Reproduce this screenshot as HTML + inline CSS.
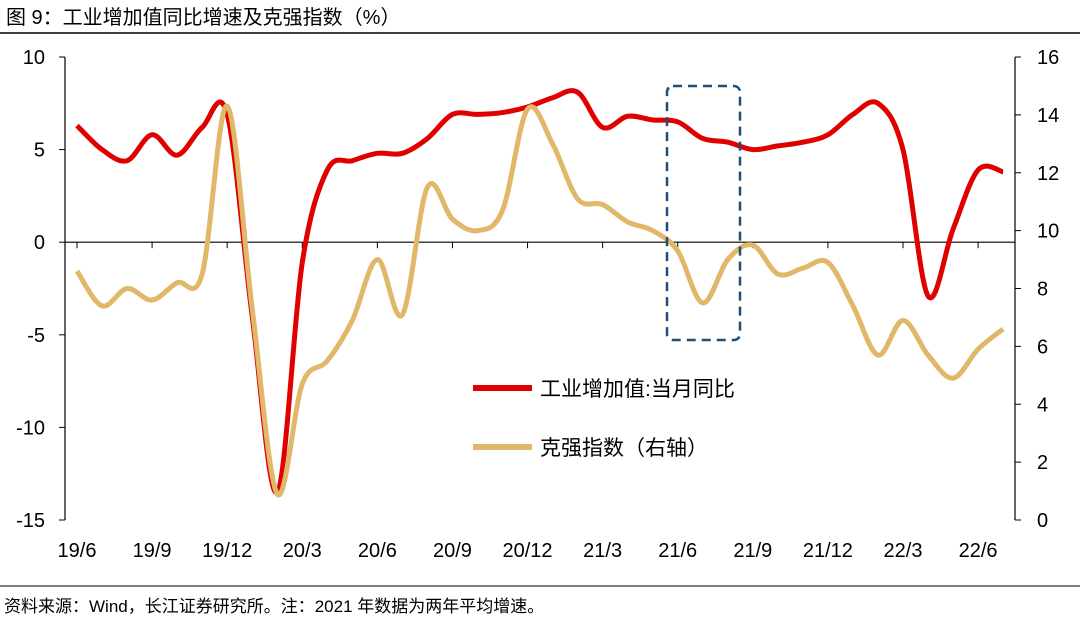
<!DOCTYPE html>
<html><head><meta charset="utf-8"><style>
body{margin:0;background:#fff;width:1080px;height:625px;overflow:hidden;font-family:"Liberation Sans","Noto Sans CJK SC",sans-serif}
</style></head><body>
<svg width="1080" height="625" font-family="Liberation Sans, Noto Sans CJK SC, sans-serif">
<text x="6" y="24" font-size="20" fill="#000">图 9：工业增加值同比增速及克强指数（%）</text>
<line x1="0" y1="33" x2="1080" y2="33" stroke="#000" stroke-width="1.5"/>
<line x1="0" y1="586" x2="1080" y2="586" stroke="#000" stroke-width="1"/>
<text x="4" y="612" font-size="17" fill="#000">资料来源：Wind，长江证券研究所。注：2021 年数据为两年平均增速。</text>
<g id="axes"></g>
<g id="marks"></g>
<rect x="667" y="86" width="73" height="254" rx="6" fill="none" stroke="#1f4e79" stroke-width="2.5" stroke-dasharray="9,6"/>
<line x1="473" y1="388" x2="532" y2="388" stroke="#e00000" stroke-width="6"/>
<text x="540" y="396" font-size="21">工业增加值:当月同比</text>
<line x1="473" y1="447" x2="532" y2="447" stroke="#e1b76a" stroke-width="6"/>
<text x="540" y="455" font-size="21">克强指数（右轴）</text>
</svg>
<script>
const months=["19/6","19/7","19/8","19/9","19/10","19/11","19/12","20/1","20/2","20/3","20/4","20/5","20/6","20/7","20/8","20/9","20/10","20/11","20/12","21/1","21/2","21/3","21/4","21/5","21/6","21/7","21/8","21/9","21/10","21/11","21/12","22/1","22/2","22/3","22/4","22/5","22/6","22/7"];
const ivaValues=[6.3,5.0,4.4,5.8,4.7,6.2,6.9,-4,-13.5,-1.1,3.9,4.4,4.8,4.8,5.6,6.9,6.9,7.0,7.3,7.8,8.1,6.2,6.8,6.6,6.5,5.6,5.4,5.0,5.2,5.4,5.8,6.9,7.5,5.0,-2.9,0.7,3.9,3.8];
const keqiangValues=[8.6,7.4,8.0,7.6,8.2,8.5,14.3,7.3,0.9,4.7,5.5,6.9,9.0,7.1,11.5,10.4,10.0,10.7,14.2,13.0,11.1,10.9,10.3,10.0,9.3,7.5,9.0,9.5,8.5,8.7,8.9,7.4,5.7,6.9,5.7,4.9,5.9,6.6];
const leftTicks=[10,5,0,-5,-10,-15];
const rightTicks=[16,14,12,10,8,6,4,2,0];
const xLabels=["19/6","19/9","19/12","20/3","20/6","20/9","20/12","21/3","21/6","21/9","21/12","22/3","22/6"];
const NS="http://www.w3.org/2000/svg";
const L=65,R=1015,T=57,B=520;
const x=i=>77+i*25.03;
const yL=v=>T+(10-v)*(B-T)/25;
const yR=v=>T+(16-v)*(B-T)/16;
function mk(tag,attrs,parent){const e=document.createElementNS(NS,tag);for(const k in attrs)e.setAttribute(k,attrs[k]);parent.appendChild(e);return e;}
const ax=document.getElementById('axes'),mg=document.getElementById('marks');
let e=mk('line',{x1:L,y1:T,x2:L,y2:B,stroke:'#000','stroke-width':1.2},ax);


e=mk('line',{x1:R,y1:T,x2:R,y2:B,stroke:'#000','stroke-width':1.2},ax);


e=mk('line',{x1:L,y1:yL(0),x2:R,y2:yL(0),stroke:'#000','stroke-width':1.2},ax);


leftTicks.forEach(v=>{
 const t=mk('line',{x1:L-6,y1:yL(v),x2:L,y2:yL(v),stroke:'#000'},ax);
 
 
 const tx=mk('text',{x:L-20,y:yL(v)+7,'font-size':20,'text-anchor':'end'},ax);tx.textContent=v;
 
 
});
rightTicks.forEach(v=>{
 const t=mk('line',{x1:R,y1:yR(v),x2:R+6,y2:yR(v),stroke:'#000'},ax);
 
 
 const tx=mk('text',{x:R+22,y:yR(v)+7,'font-size':20},ax);tx.textContent=v;
 
 
});
xLabels.forEach(lab=>{
 const i=months.indexOf(lab);
 const t=mk('line',{x1:x(i),y1:yL(0),x2:x(i),y2:yL(0)+6,stroke:'#000'},ax);
 
 
 const tx=mk('text',{x:x(i),y:557,'font-size':20,'text-anchor':'middle'},ax);tx.textContent=lab;
 
 
});
function smooth(pts){let d=`M${pts[0][0]},${pts[0][1]}`;for(let i=0;i<pts.length-1;i++){const p0=pts[i-1]||pts[i],p1=pts[i],p2=pts[i+1],p3=pts[i+2]||p2;const c1=[p1[0]+(p2[0]-p0[0])/6,p1[1]+(p2[1]-p0[1])/6],c2=[p2[0]-(p3[0]-p1[0])/6,p2[1]-(p3[1]-p1[1])/6];d+=`C${c1[0]},${c1[1]} ${c2[0]},${c2[1]} ${p2[0]},${p2[1]}`;}return d;}
let p=mk('path',{d:smooth(ivaValues.map((v,i)=>[x(i),yL(v)])),fill:'none',stroke:'#e00000','stroke-width':5,'stroke-linejoin':'round'},mg);


p=mk('path',{d:smooth(keqiangValues.map((v,i)=>[x(i),yR(v)])),fill:'none',stroke:'#e1b76a','stroke-width':5,'stroke-linejoin':'round'},mg);


</script>
</body></html>
